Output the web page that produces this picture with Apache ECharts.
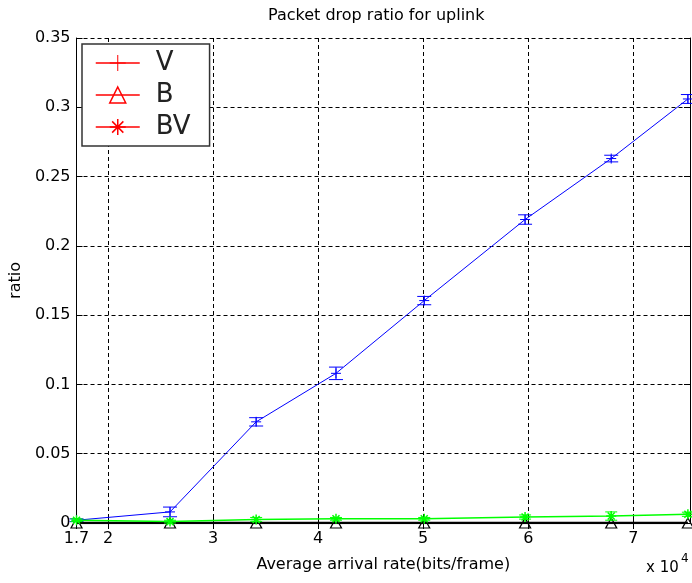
<!DOCTYPE html>
<html>
<head>
<meta charset="utf-8">
<script src="https://cdn.jsdelivr.net/npm/echarts@6/dist/echarts.min.js"></script>
<style>
  html, body { margin: 0; padding: 0; background: #fff; }
  #chart { width: 692px; height: 583px; }
</style>
</head>
<body>
<div id="chart"></div>
<script>
// Average arrival rate (bits/frame) for each measurement point
const arrivalRates = [17000, 25900, 34100, 41700, 50100, 59700, 67900, 75200];

// Packet drop ratio per traffic type, with error-bar half widths
const vRatio = [0.002, 0.008, 0.073, 0.108, 0.1605, 0.219, 0.263, 0.306];
const vError = [0.001, 0.0035, 0.003, 0.0045, 0.003, 0.0034, 0.0024, 0.0032];
const bRatio = [0, 0, 0, 0, 0, 0, 0, 0];
const bvRatio = [0.002, 0.001, 0.0025, 0.003, 0.003, 0.0043, 0.005, 0.0063];
const bvError = [0.001, 0.001, 0.0015, 0.001, 0.001, 0.0015, 0.003, 0.0015];

// Axis ticks
const xTickValues = [17000, 20000, 30000, 40000, 50000, 60000, 70000];
const xTickLabels = ['1.7', '2', '3', '4', '5', '6', '7'];

const FONT = 'DejaVu Sans';
const BLUE = '#0000ff';
const GREEN = '#00ff00';

const plusSymbol = 'path://M5,0L5,10M0,5L10,5';
const starSymbol = 'path://M5,0L5,10M0,5L10,5M1.5,1.5L8.5,8.5M8.5,1.5L1.5,8.5';
const triSymbol = 'path://M5,0L9.5,9L0.5,9Z';

function pairs(xs, ys) { return xs.map((x, i) => [x, ys[i]]); }
function triples(xs, ys, es) { return xs.map((x, i) => [x, ys[i], es[i]]); }

function errorBars(color, capHalf) {
  return function (params, api) {
    const x = api.value(0), y = api.value(1), e = api.value(2);
    const hi = api.coord([x, y + e]);
    const lo = api.coord([x, y - e]);
    const style = { stroke: color, lineWidth: 1, fill: null };
    return {
      type: 'group',
      children: [
        { type: 'line', shape: { x1: hi[0], y1: hi[1], x2: lo[0], y2: lo[1] }, style },
        { type: 'line', shape: { x1: hi[0] - capHalf, y1: hi[1], x2: hi[0] + capHalf, y2: hi[1] }, style },
        { type: 'line', shape: { x1: lo[0] - capHalf, y1: lo[1], x2: lo[0] + capHalf, y2: lo[1] }, style }
      ]
    };
  };
}

const gridDash = { color: '#000', width: 1, type: [4, 3] };
const axisLineStyle = { lineStyle: { color: '#000', width: 1 } };

const chart = echarts.init(document.getElementById('chart'), null, { renderer: 'canvas' });

chart.setOption({
  animation: false,
  backgroundColor: '#fff',
  textStyle: { fontFamily: FONT },
  title: {
    text: 'Packet drop ratio for uplink',
    left: 268,
    top: 8,
    padding: 0,
    textStyle: { fontFamily: FONT, fontSize: 16, fontWeight: 'normal', color: '#000' }
  },
  legend: {
    orient: 'vertical',
    left: 82,
    top: 44,
    padding: [6, 19, 6, 13],
    itemGap: 6,
    itemWidth: 44,
    itemHeight: 20,
    borderColor: '#333',
    borderWidth: 1.5,
    backgroundColor: '#fff',
    textStyle: { fontFamily: FONT, fontSize: 26, color: '#222', padding: [0, 0, 0, 11] },
    data: [
      { name: 'V', itemStyle: { color: 'red', borderColor: 'red', borderWidth: 1 }, lineStyle: { color: 'red', width: 1.5 } },
      { name: 'B', itemStyle: { color: 'rgba(0,0,0,0)', borderColor: 'red', borderWidth: 1.5 }, lineStyle: { color: 'red', width: 1.5 } },
      { name: 'BV', itemStyle: { color: 'red', borderColor: 'red', borderWidth: 1.5 }, lineStyle: { color: 'red', width: 1.5 } }
    ]
  },
  grid: { left: 73, right: 2, top: 38, bottom: 60, show: false },
  xAxis: [
    {
      type: 'value',
      position: 'bottom',
      min: 17000,
      max: 75400,
      name: 'Average arrival rate(bits/frame)',
      nameLocation: 'middle',
      nameGap: 34,
      nameTextStyle: { fontFamily: FONT, fontSize: 16, color: '#000' },
      axisLine: axisLineStyle,
      axisTick: { inside: true, length: 6, customValues: xTickValues, lineStyle: { color: '#000' } },
      axisLabel: {
        customValues: xTickValues,
        margin: 8,
        fontFamily: FONT,
        fontSize: 16,
        color: '#000',
        formatter: v => xTickLabels[xTickValues.indexOf(v)] ?? ''
      },
      splitLine: { show: true, lineStyle: gridDash }
    },
    {
      type: 'value',
      position: 'top',
      min: 17000,
      max: 75400,
      axisLine: axisLineStyle,
      axisTick: { inside: true, length: 6, customValues: xTickValues, lineStyle: { color: '#000' } },
      axisLabel: { show: false },
      splitLine: { show: false }
    }
  ],
  yAxis: [
    {
      type: 'value',
      position: 'left',
      min: 0,
      max: 0.35,
      interval: 0.05,
      name: 'ratio',
      nameLocation: 'middle',
      nameRotate: 90,
      nameGap: 48,
      nameTextStyle: { fontFamily: FONT, fontSize: 16, color: '#000' },
      axisLine: axisLineStyle,
      axisTick: { inside: true, length: 6, lineStyle: { color: '#000' } },
      axisLabel: { margin: 6, fontFamily: FONT, fontSize: 16, color: '#000' },
      splitLine: { show: true, lineStyle: gridDash }
    },
    {
      type: 'value',
      position: 'right',
      min: 0,
      max: 0.35,
      interval: 0.05,
      axisLine: axisLineStyle,
      axisTick: { inside: true, length: 6, lineStyle: { color: '#000' } },
      axisLabel: { show: false },
      splitLine: { show: false }
    }
  ],
  graphic: [
    {
      type: 'text', left: 646, top: 561,
      style: { text: 'x 10', fontFamily: FONT, fontSize: 15, fill: '#000' }
    },
    {
      type: 'text', left: 681, top: 553,
      style: { text: '4', fontFamily: FONT, fontSize: 12, fill: '#000' }
    }
  ],
  series: [
    {
      name: 'V',
      type: 'line',
      data: pairs(arrivalRates, vRatio),
      symbol: plusSymbol,
      symbolSize: 10,
      showAllSymbol: true,
      lineStyle: { color: BLUE, width: 1 },
      itemStyle: { color: BLUE, borderColor: BLUE, borderWidth: 1 },
      z: 3
    },
    {
      name: 'V error',
      type: 'custom',
      data: triples(arrivalRates, vRatio, vError),
      encode: { x: 0, y: 1 },
      renderItem: errorBars(BLUE, 7),
      z: 3
    },
    {
      name: 'B',
      type: 'line',
      data: pairs(arrivalRates, bRatio),
      symbol: triSymbol,
      symbolSize: [11, 10],
      showAllSymbol: true,
      lineStyle: { color: '#000', width: 2.5 },
      itemStyle: { color: 'rgba(0,0,0,0)', borderColor: '#000', borderWidth: 1.2 },
      z: 4
    },
    {
      name: 'BV',
      type: 'line',
      data: pairs(arrivalRates, bvRatio),
      symbol: starSymbol,
      symbolSize: 10,
      showAllSymbol: true,
      lineStyle: { color: GREEN, width: 1.5 },
      itemStyle: { color: GREEN, borderColor: GREEN, borderWidth: 1.5 },
      z: 5
    },
    {
      name: 'BV error',
      type: 'custom',
      data: triples(arrivalRates, bvRatio, bvError),
      encode: { x: 0, y: 1 },
      renderItem: errorBars(GREEN, 6),
      z: 5
    }
  ]
});
</script>
</body>
</html>
